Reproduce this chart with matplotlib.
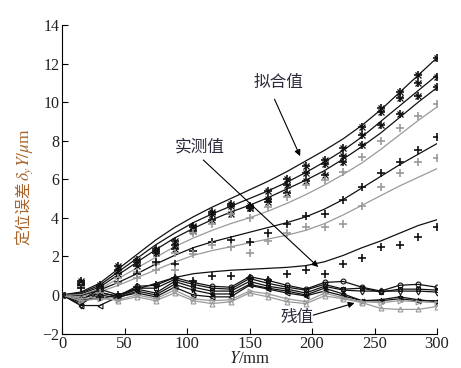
import matplotlib
matplotlib.use("Agg")
import matplotlib.pyplot as plt
import numpy as np

plt.rcParams['font.family'] = ['Liberation Serif', 'Noto Sans CJK SC']
plt.rcParams['mathtext.fontset'] = 'stix'

x = np.arange(0, 301, 15)

# fitted curves (拟合值)
fit1 = [0, 0.15, 0.6, 1.35, 2.1, 2.85, 3.5, 4.05, 4.55, 5.0, 5.45, 5.9, 6.4, 6.95, 7.5, 8.1, 8.8, 9.6, 10.5, 11.4, 12.3]
fit2 = [0, 0.1, 0.5, 1.2, 1.9, 2.6, 3.2, 3.75, 4.2, 4.6, 5.0, 5.4, 5.85, 6.35, 6.9, 7.5, 8.2, 9.0, 9.8, 10.6, 11.4]
fit3 = [0, 0.05, 0.4, 1.05, 1.7, 2.35, 2.95, 3.45, 3.9, 4.3, 4.65, 5.05, 5.5, 5.95, 6.45, 7.05, 7.7, 8.4, 9.2, 10.0, 10.75]
fit4 = [0, 0.0, 0.3, 0.85, 1.4, 1.95, 2.5, 2.95, 3.35, 3.7, 4.0, 4.35, 4.75, 5.2, 5.7, 6.25, 6.85, 7.55, 8.3, 9.05, 9.75]
fit5 = [0, -0.05, 0.25, 0.65, 1.1, 1.6, 2.05, 2.45, 2.75, 3.0, 3.25, 3.5, 3.75, 4.05, 4.45, 4.95, 5.55, 6.15, 6.75, 7.3, 7.85]
fit6 = [0, -0.1, 0.15, 0.5, 0.9, 1.3, 1.7, 2.05, 2.3, 2.5, 2.7, 2.9, 3.1, 3.35, 3.7, 4.15, 4.65, 5.15, 5.65, 6.1, 6.55]
fit7 = [0, -0.25, -0.2, 0.0, 0.3, 0.6, 0.9, 1.1, 1.2, 1.28, 1.33, 1.38, 1.43, 1.52, 1.72, 2.05, 2.45, 2.8, 3.2, 3.6, 3.9]

# measured values (实测值)
meas1 = [0, 0.7, 0.5, 1.5, 1.8, 2.4, 2.8, 3.6, 4.3, 4.7, 4.6, 5.4, 6.0, 6.7, 7.0, 7.6, 8.7, 9.7, 10.5, 11.4, 12.3]
meas2 = [0, 0.6, 0.4, 1.3, 1.7, 2.3, 2.6, 3.5, 4.2, 4.6, 4.5, 5.0, 5.7, 6.3, 6.8, 7.2, 8.3, 9.5, 10.2, 11.0, 11.3]
meas3 = [0, 0.5, 0.3, 1.1, 1.5, 2.2, 2.4, 3.3, 3.9, 4.2, 4.5, 4.8, 5.3, 5.9, 6.2, 6.9, 7.8, 8.8, 9.4, 10.3, 10.8]
meas4 = [0, 0.4, 0.2, 0.9, 1.2, 1.6, 2.2, 3.2, 3.7, 4.2, 4.0, 4.55, 5.1, 5.7, 5.95, 6.4, 7.15, 8.0, 8.65, 9.3, 9.9]
meas5 = [0, 0.5, 0.2, 0.65, 1.1, 1.7, 1.6, 2.3, 2.75, 2.85, 2.75, 3.2, 3.7, 4.1, 4.2, 4.9, 5.6, 6.3, 6.9, 7.5, 8.2]
meas6 = [0, 0.4, 0.1, 0.6, 0.9, 1.3, 1.3, 2.1, 2.6, 2.5, 2.2, 2.8, 3.2, 3.5, 3.5, 3.7, 4.6, 5.6, 6.3, 6.9, 7.1]
meas7 = [0, 0.35, -0.1, 0.0, 0.4, 0.5, 0.9, 0.7, 1.0, 1.0, 0.9, 0.8, 1.1, 1.3, 1.1, 1.6, 1.9, 2.5, 2.6, 3.0, 3.5]

# residuals (残值)
res1 = [0, -0.2, 0.1, -0.05, 0.45, 0.5, 0.9, 0.65, 0.45, 0.4, 0.95, 0.75, 0.5, 0.3, 0.65, 0.7, 0.4, 0.2, 0.5, 0.55, 0.4]
res2 = [0, -0.3, 0.3, 0.0, 0.35, 0.35, 0.8, 0.55, 0.35, 0.3, 0.85, 0.6, 0.4, 0.25, 0.55, 0.3, 0.35, 0.15, 0.3, 0.3, 0.25]
res3 = [0, -0.5, 0.15, -0.1, 0.3, 0.1, 0.7, 0.4, 0.2, 0.2, 0.7, 0.45, 0.3, 0.1, 0.45, 0.25, 0.2, 0.2, 0.2, 0.2, 0.15]
res4 = [0, -0.4, 0.0, -0.15, 0.2, 0.0, 0.55, 0.25, 0.05, 0.05, 0.55, 0.35, 0.2, 0.0, 0.35, 0.05, -0.3, -0.25, -0.1, -0.25, -0.35]
res5 = [0, -0.55, -0.55, -0.1, 0.1, -0.1, 0.4, 0.0, -0.1, -0.1, 0.5, 0.3, 0.1, -0.05, 0.2, -0.05, -0.3, -0.3, -0.2, -0.3, -0.3]
res6 = [0, -0.3, -0.2, -0.25, 0.0, -0.2, 0.25, -0.2, -0.3, -0.25, 0.2, 0.05, -0.2, -0.35, 0.1, -0.15, -0.35, -0.4, -0.3, -0.35, -0.4]
res7 = [0, -0.2, -0.1, -0.3, -0.1, -0.3, 0.1, -0.3, -0.45, -0.35, 0.1, -0.1, -0.35, -0.45, -0.05, -0.2, -0.4, -0.7, -0.75, -0.75, -0.6]

xticks = [0, 50, 100, 150, 200, 250, 300]
yticks = [-2, 0, 2, 4, 6, 8, 10, 12, 14]

BLACK = '#111111'
GRAY = '#9a9a9a'

fig = plt.figure(figsize=(4.61, 3.68), dpi=100)
ax = fig.add_axes([62/461, 1-333.5/368, (437-62)/461, (333.5-25)/368])

fits = [fit1, fit2, fit3, fit4, fit5, fit6, fit7]
meas = [meas1, meas2, meas3, meas4, meas5, meas6, meas7]
cols = [BLACK, BLACK, BLACK, GRAY, BLACK, GRAY, BLACK]
star = [True, True, True, False, False, False, False]
for f, m, c, st in zip(fits, meas, cols, star):
    ax.plot(x, f, color=c, lw=0.9, zorder=2)
    ax.plot(x, m, ls='none', marker='+', ms=5.5, mew=1.2, color=c, zorder=3)
    if st:
        ax.plot(x, m, ls='none', marker='x', ms=4, mew=0.9, color=c, zorder=3)

ress = [res1, res2, res3, res4, res5, res6, res7]
rcols = [BLACK, BLACK, BLACK, BLACK, BLACK, GRAY, GRAY]
rmks = ['o', 's', 'd', '*', '<', '>', '^']
for r, c, mk in zip(ress, rcols, rmks):
    ax.plot(x, r, color=c, lw=0.9, marker=mk, ms=3.5, mfc='none', mew=0.8, zorder=2)

ax.set_xlim(0, 300)
ax.set_ylim(-2, 14)
ax.set_xticks(xticks)
ax.set_yticks(yticks)
ax.set_xticklabels([str(v) for v in xticks], fontsize=12, color='#222222')
ax.set_yticklabels([str(v).replace('-', '\u2212') for v in yticks], fontsize=11.5, color='#222222')
ax.tick_params(direction='in', length=4, width=0.8, pad=2)
ax.spines['top'].set_visible(False)
ax.spines['right'].set_visible(False)
for s in ['left', 'bottom']:
    ax.spines[s].set_linewidth(0.8)
ax.set_xlabel('$Y$/mm', fontsize=12, labelpad=-1, color='#222222')

# y label in two parts
lab_col = '#a8642a'
t1 = fig.text(25/461, 1-245/368, '定位误差', rotation=90, ha='center', va='bottom',
              fontsize=11.5, color=lab_col, family=['Noto Sans CJK SC'])
fig.canvas.draw()
bb = t1.get_window_extent(fig.canvas.get_renderer())
fig.text(25/461, bb.y1/368, r'$\delta_y Y/\mu$m', rotation=90, ha='center', va='bottom',
         fontsize=12.5, color=lab_col)

tc = '#2b2b3b'
ann_font = ['Noto Sans CJK SC']
ax.text(172.8, 11.0, '拟合值', ha='center', va='center', fontsize=12, color=tc, family=ann_font)
ax.text(110.4, 7.66, '实测值', ha='center', va='center', fontsize=12, color=tc, family=ann_font)
ax.text(188, -1.17, '残值', ha='center', va='center', fontsize=12, color=tc, family=ann_font)
ap = dict(arrowstyle='-|>', color='k', lw=0.8, mutation_scale=9, shrinkA=0, shrinkB=0)
ax.annotate('', xy=(190.5, 7.2), xytext=(170, 10.15), arrowprops=ap)
ax.annotate('', xy=(205, 1.45), xytext=(113, 7.0), arrowprops=ap)
ax.annotate('', xy=(234, -0.42), xytext=(201, -1.05), arrowprops=ap)

fig.savefig('out.png', dpi=100)
